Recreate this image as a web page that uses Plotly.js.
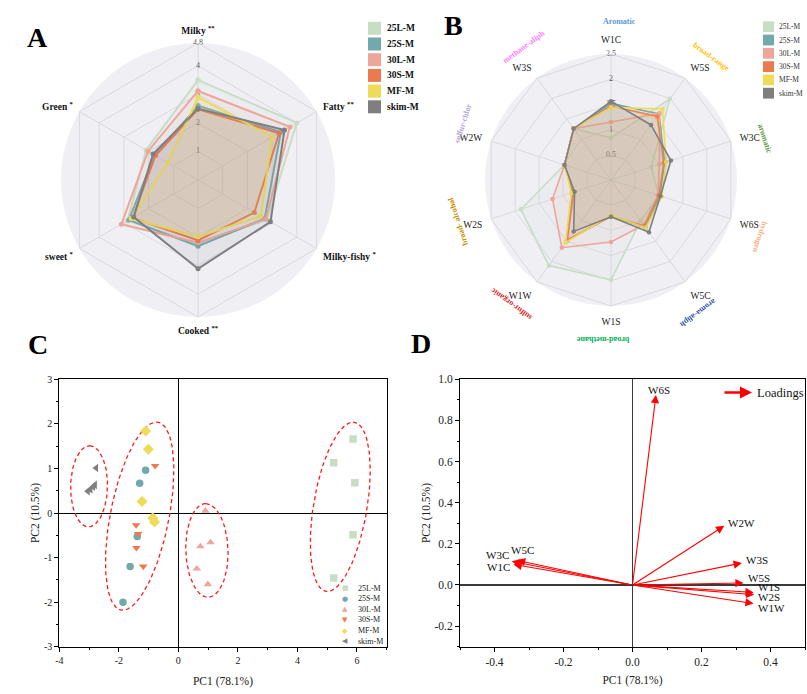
<!DOCTYPE html>
<html>
<head>
<meta charset="utf-8">
<script src="https://cdn.plot.ly/plotly-3.0.1.min.js"></script>
<style>
  html, body { margin: 0; padding: 0; background: #fff; }
  #chart { width: 807px; height: 694px; }
</style>
</head>
<body>
<div id="chart"></div>
<script>
// ---------- shared ----------
const groups = ['25L-M', '25S-M', '30L-M', '30S-M', 'MF-M', 'skim-M'];
const groupColors = ['#c9dcc4', '#72a9ac', '#eea59a', '#ec7a50', '#eedc58', '#7f7f7f'];

// ---------- A: sensory profile ----------
const sensoryAttrs = ['Milky', 'Fatty', 'Milky-fishy', 'Cooked', 'sweet', 'Green'];
const sensorySig   = ['**', '**', '*', '**', '*', '*'];
const sensoryTicks = [0, 1, 2, 3, 4, 4.8];
const sensory_25L  = [3.50, 4.00, 2.78, 2.25, 2.85, 2.10];
const sensory_25S  = [2.60, 3.35, 2.70, 2.32, 2.80, 1.75];
const sensory_30L  = [3.12, 3.72, 2.74, 2.20, 3.10, 2.02];
const sensory_30S  = [2.48, 3.28, 2.28, 2.12, 2.65, 1.72];
const sensory_MF   = [2.90, 3.00, 2.54, 1.99, 2.70, 1.22];
const sensory_skim = [2.50, 3.50, 2.93, 3.11, 2.60, 1.82];

// ---------- B: electronic nose ----------
const sensors     = ['W1C', 'W5S', 'W3C', 'W6S', 'W5C', 'W1S', 'W1W', 'W2S', 'W2W', 'W3S'];
const sensorNotes = ['Aromatic', 'broad-range', 'aromatic', 'hydrogen', 'aroma-aliph',
                     'broad-methane', 'sulfur-organic', 'broad- alcohol', 'sulfur-chlor', 'methane-aliph'];
const noteColors  = ['#5b9bd5', '#ffc000', '#5e9a3e', '#f4b183', '#2f55a4',
                     '#00b050', '#e02020', '#bf9000', '#b4a7d6', '#ff80ff'];
const enoseTicks  = [0, 0.5, 1, 1.5, 2, 2.5];
const enose_25L   = [0.84, 1.99, 0.84, 1.00, 1.00, 1.98, 2.10, 1.88, 0.97, 1.26];
const enose_25S   = [1.52, 1.62, 1.12, 1.02, 1.16, 0.72, 1.50, 0.80, 0.97, 1.26];
const enose_30L   = [1.15, 1.64, 1.01, 0.98, 1.10, 1.23, 1.66, 1.22, 0.97, 1.26];
const enose_30S   = [1.47, 1.56, 1.10, 1.00, 1.13, 0.72, 1.47, 0.78, 0.97, 1.26];
const enose_MF    = [1.44, 1.74, 1.15, 1.06, 1.17, 0.70, 1.53, 0.83, 0.97, 1.26];
const enose_skim  = [1.56, 1.35, 1.25, 1.03, 1.28, 0.73, 1.26, 0.76, 0.97, 1.26];

// ---------- C: PCA scores ----------
const pc1_25L  = [5.87, 5.22, 5.93, 5.87, 5.22];
const pc2_25L  = [1.66, 1.13, 0.68, -0.49, -1.46];
const pc1_25S  = [-1.10, -1.30, -1.38, -1.62, -1.86];
const pc2_25S  = [0.96, 0.67, -0.53, -1.20, -2.00];
const pc1_30L  = [0.91, 1.08, 0.74, 0.62, 0.99];
const pc2_30L  = [0.05, -0.66, -0.75, -1.25, -1.60];
const pc1_30S  = [-0.78, -1.42, -1.35, -1.41, -1.18];
const pc2_30S  = [1.06, -0.27, -0.47, -0.78, -1.20];
const pc1_MF   = [-1.10, -1.01, -1.22, -0.86, -0.80];
const pc2_MF   = [1.84, 1.43, 0.26, -0.11, -0.20];
const pc1_skim = [-2.76, -2.80, -2.86, -2.95, -3.04];
const pc2_skim = [1.01, 0.63, 0.59, 0.53, 0.49];
const scoreSymbols = ['square', 'circle', 'triangle-up', 'triangle-down', 'diamond', 'triangle-left'];
const scoreGlyphs  = ['\u25A0', '\u25CF', '\u25B2', '\u25BC', '\u25C6', '\u25C0'];
// confidence ellipses: centre (cx, cy), conjugate semi-diameters u and v
const ellipseCx = [-3.00, -1.30, 0.96, 5.44];
const ellipseCy = [0.60, -0.07, -0.84, 0.14];
const ellipseUx = [0.02, 0.565, -0.04, 0.43];
const ellipseUy = [0.91, 2.11, 1.05, 1.90];
const ellipseVx = [0.62, 1.00, 0.71, 0.91];
const scoreXTicks = [-4, -2, 0, 2, 4, 6];
const scoreYTicks = [-3, -2, -1, 0, 1, 2, 3];

// ---------- D: loadings ----------
const loadSensors = ['W6S', 'W2W', 'W3S', 'W5S', 'W1S', 'W2S', 'W1W', 'W3C', 'W5C', 'W1C'];
const loadPC1     = [0.068, 0.266, 0.317, 0.322, 0.351, 0.353, 0.351, -0.350, -0.335, -0.345];
const loadPC2     = [0.924, 0.288, 0.107, 0.010, -0.036, -0.047, -0.090, 0.115, 0.120, 0.100];
const loadXTicks  = [-0.4, -0.2, 0.0, 0.2, 0.4];
const loadYTicks  = [-0.2, 0.0, 0.2, 0.4, 0.6, 0.8, 1.0];

// ---------- page geometry helpers ----------
const W = 807, H = 694;
const SERIF = 'Liberation Serif, Times New Roman, serif';
const px = x => x / W;
const py = y => 1 - y / H;
function rgba(hex, a) {
  const n = parseInt(hex.slice(1), 16);
  return `rgba(${(n >> 16) & 255},${(n >> 8) & 255},${n & 255},${a})`;
}
const close = arr => arr.concat([arr[0]]);

// radar panel placement (centre and outer radius, in px)
const radarA = { cx: 198, cy: 180, r: 137 };
const radarB = { cx: 611, cy: 180, r: 126 };
const domainOf = c => ({ x: [px(c.cx - c.r), px(c.cx + c.r)], y: [py(c.cy + c.r), py(c.cy - c.r)] });
const tickGray = '#5a5a5a';

const traces = [];

// A: radial tick labels sit under the profiles
traces.push({
  type: 'scatterpolar', subplot: 'polar', mode: 'text', cliponaxis: false,
  r: sensoryTicks, theta: sensoryTicks.map(() => sensoryAttrs[0]),
  text: sensoryTicks.map(String),
  textfont: { family: SERIF, size: 8, color: sensoryTicks.map(() => tickGray) },
  hoverinfo: 'skip', showlegend: false
});
const sensoryData = [sensory_25L, sensory_25S, sensory_30L, sensory_30S, sensory_MF, sensory_skim];
groups.forEach((g, i) => {
  traces.push({
    type: 'scatterpolar', subplot: 'polar', name: g, mode: 'lines+markers',
    r: close(sensoryData[i]), theta: close(sensoryAttrs),
    fill: 'toself', fillcolor: rgba(groupColors[i], 0.1),
    line: { color: groupColors[i], width: 2 },
    marker: { color: groupColors[i], size: 5 },
    hoverinfo: 'skip', showlegend: false
  });
});

// B
traces.push({
  type: 'scatterpolar', subplot: 'polar2', mode: 'text', cliponaxis: false,
  r: enoseTicks, theta: enoseTicks.map(() => sensors[0]),
  text: enoseTicks.map(String),
  textfont: { family: SERIF, size: 8, color: enoseTicks.map(() => tickGray) },
  hoverinfo: 'skip', showlegend: false
});
const enoseData = [enose_25L, enose_25S, enose_30L, enose_30S, enose_MF, enose_skim];
groups.forEach((g, i) => {
  traces.push({
    type: 'scatterpolar', subplot: 'polar2', name: g, mode: 'lines+markers',
    r: close(enoseData[i]), theta: close(sensors),
    fill: 'toself', fillcolor: rgba(groupColors[i], 0.1),
    line: { color: groupColors[i], width: 1.6 },
    marker: { color: groupColors[i], size: 4.5 },
    hoverinfo: 'skip', showlegend: false
  });
});

// C: ellipses then scores
ellipseCx.forEach((cx, k) => {
  const xs = [], ys = [];
  for (let s = 0; s <= 120; s++) {
    const t = 2 * Math.PI * s / 120;
    xs.push(cx + ellipseUx[k] * Math.cos(t) + ellipseVx[k] * Math.sin(t));
    ys.push(ellipseCy[k] + ellipseUy[k] * Math.cos(t));
  }
  traces.push({
    type: 'scatter', xaxis: 'x', yaxis: 'y', mode: 'lines', x: xs, y: ys,
    line: { color: '#ff1a1a', width: 1.3, dash: '4px,3px' },
    hoverinfo: 'skip', showlegend: false
  });
});
const pc1Data = [pc1_25L, pc1_25S, pc1_30L, pc1_30S, pc1_MF, pc1_skim];
const pc2Data = [pc2_25L, pc2_25S, pc2_30L, pc2_30S, pc2_MF, pc2_skim];
groups.forEach((g, i) => {
  traces.push({
    type: 'scatter', xaxis: 'x', yaxis: 'y', mode: 'markers', name: g,
    x: pc1Data[i], y: pc2Data[i],
    marker: { symbol: scoreSymbols[i], size: i === 4 ? 8.5 : 7.5, color: groupColors[i] },
    hoverinfo: 'skip', showlegend: false
  });
});

// D: an invisible trace to anchor the loading axes
traces.push({
  type: 'scatter', xaxis: 'x2', yaxis: 'y2', mode: 'markers',
  x: loadPC1, y: loadPC2, marker: { size: 1, opacity: 0 },
  hoverinfo: 'skip', showlegend: false
});

// ---------- annotations and shapes ----------
const annotations = [];
const shapes = [];

// radar backdrops
[radarA, radarB].forEach(c => {
  shapes.push({
    type: 'circle', xref: 'paper', yref: 'paper', layer: 'below',
    x0: px(c.cx - c.r), x1: px(c.cx + c.r), y0: py(c.cy + c.r), y1: py(c.cy - c.r),
    fillcolor: '#efeff4', line: { width: 0 }
  });
});

// panel letters
[['A', 37.5, 38], ['B', 453.5, 26], ['C', 37.5, 344], ['D', 421, 343]].forEach(([t, x, y]) => {
  annotations.push({
    text: t, xref: 'paper', yref: 'paper', x: px(x), y: py(y),
    xanchor: 'center', yanchor: 'middle', showarrow: false,
    font: { family: SERIF, size: 28, color: '#000', weight: 'bold' }
  });
});

// A legend
groups.forEach((g, i) => {
  const yc = 28.3 + i * 15.7;
  shapes.push({
    type: 'rect', xref: 'paper', yref: 'paper',
    x0: px(368), x1: px(381), y0: py(yc + 6.5), y1: py(yc - 6.5),
    fillcolor: groupColors[i], line: { width: 0 }
  });
  annotations.push({
    text: g, xref: 'paper', yref: 'paper', x: px(385), y: py(yc),
    xanchor: 'left', yanchor: 'middle', showarrow: false,
    font: { family: SERIF, size: 9.5, color: '#111', weight: 'bold' }
  });
});

// B legend
groups.forEach((g, i) => {
  const yc = 26.7 + i * 13.3;
  shapes.push({
    type: 'rect', xref: 'paper', yref: 'paper',
    x0: px(763), x1: px(774), y0: py(yc + 5.4), y1: py(yc - 5.4),
    fillcolor: groupColors[i], line: { width: 0 }
  });
  annotations.push({
    text: g, xref: 'paper', yref: 'paper', x: px(777), y: py(yc),
    xanchor: 'left', yanchor: 'middle', showarrow: false,
    font: { family: SERIF, size: 7.5, color: '#333' }
  });
});

// B sensor descriptions around the rim
sensors.forEach((s, i) => {
  const axisDeg = i * 360 / sensors.length;
  const a = (axisDeg + 3) * Math.PI / 180;
  const R = 159;
  annotations.push({
    text: sensorNotes[i], xref: 'paper', yref: 'paper',
    x: px(radarB.cx + R * Math.sin(a)), y: py(radarB.cy - R * Math.cos(a)),
    xanchor: 'center', yanchor: 'middle', showarrow: false, textangle: axisDeg,
    font: { family: SERIF, size: 8, color: noteColors[i], weight: 'bold' }
  });
});

// C legend
groups.forEach((g, i) => {
  const yc = 588.3 + i * 10.55;
  annotations.push({
    text: scoreGlyphs[i], xref: 'paper', yref: 'paper', x: px(345), y: py(yc),
    xanchor: 'center', yanchor: 'middle', showarrow: false,
    font: { family: 'DejaVu Sans', size: 7, color: groupColors[i] }
  });
  annotations.push({
    text: g, xref: 'paper', yref: 'paper', x: px(356), y: py(yc),
    xanchor: 'left', yanchor: 'middle', showarrow: false,
    font: { family: SERIF, size: 8, color: '#222' }
  });
});

// D loading arrows and labels
const loadLabelPos = {
  W6S: ['center', 3, 5], W2W: ['left', 2, 3], W3S: ['left', 2, 2.5], W5S: ['left', 2, 5],
  W1S: ['left', 2, 5], W2S: ['left', 2, -2.5], W1W: ['left', 2, -4.5],
  W3C: ['right', -1, 6], W5C: ['left', -8, 10.5], W1C: ['right', -1, -2.5]
};
loadSensors.forEach((s, i) => {
  annotations.push({
    text: '', xref: 'x2', yref: 'y2', axref: 'x2', ayref: 'y2',
    x: loadPC1[i], y: loadPC2[i], ax: 0, ay: 0,
    showarrow: true, arrowhead: 2, arrowsize: 1.5, arrowwidth: 1.1,
    arrowcolor: '#ff0000', standoff: 0, startstandoff: 0
  });
});
loadSensors.forEach((s, i) => {
  const [anchor, dx, dy] = loadLabelPos[s];
  annotations.push({
    text: s, xref: 'x2', yref: 'y2', x: loadPC1[i], y: loadPC2[i],
    xanchor: anchor, yanchor: 'middle', xshift: dx, yshift: dy, showarrow: false,
    font: { family: SERIF, size: 11, color: '#111' }
  });
});
// loadings key
annotations.push({
  text: '', xref: 'paper', yref: 'paper', x: px(752), y: py(392.5),
  ax: -29, ay: 0, showarrow: true, arrowhead: 2, arrowsize: 1, arrowwidth: 2.4,
  arrowcolor: '#ff0000', standoff: 0
});
annotations.push({
  text: 'Loadings', xref: 'paper', yref: 'paper', x: px(755), y: py(392.5),
  xanchor: 'left', yanchor: 'middle', showarrow: false,
  font: { family: SERIF, size: 12.5, color: '#111' }
});

// ---------- axes ----------
const gridCol = '#d9d9de';
const cartAxis = (over) => Object.assign({
  showline: true, linecolor: '#000', linewidth: 1, mirror: true,
  ticks: 'outside', ticklen: 4, tickcolor: '#000', tickwidth: 1,
  showgrid: false, zeroline: true, zerolinecolor: '#000', zerolinewidth: 1,
  tickfont: { family: SERIF, size: 10, color: '#222' }, fixedrange: true
}, over);

const layout = {
  width: W, height: H,
  margin: { l: 0, r: 0, t: 0, b: 0, pad: 0 },
  paper_bgcolor: '#fff', plot_bgcolor: 'rgba(0,0,0,0)',
  showlegend: false, hovermode: false, dragmode: false,
  polar: {
    domain: domainOf(radarA), bgcolor: 'rgba(0,0,0,0)', gridshape: 'linear',
    radialaxis: {
      range: [0, 4.8], tickmode: 'array', tickvals: [1, 2, 3, 4],
      showticklabels: false, ticks: '', showline: false, gridcolor: gridCol, gridwidth: 1
    },
    angularaxis: {
      rotation: 90, direction: 'clockwise', tickmode: 'array',
      tickvals: sensoryAttrs.map((_, i) => i),
      ticktext: sensoryAttrs.map((a, i) => a + ' <sup>' + sensorySig[i] + '</sup>'),
      tickfont: { family: SERIF, size: 9.5, color: '#111', weight: 'bold' },
      ticks: 'outside', ticklen: 5, tickcolor: 'rgba(0,0,0,0)',
      showline: true, linecolor: gridCol, gridcolor: gridCol
    }
  },
  polar2: {
    domain: domainOf(radarB), bgcolor: 'rgba(0,0,0,0)', gridshape: 'linear',
    radialaxis: {
      range: [0, 2.5], tickmode: 'array', tickvals: [0.5, 1, 1.5, 2],
      showticklabels: false, ticks: '', showline: false, gridcolor: gridCol, gridwidth: 1
    },
    angularaxis: {
      rotation: 90, direction: 'clockwise',
      tickfont: { family: SERIF, size: 9.5, color: '#222' },
      ticks: 'outside', ticklen: 7, tickcolor: 'rgba(0,0,0,0)',
      showline: true, linecolor: gridCol, gridcolor: gridCol
    }
  },
  xaxis: cartAxis({
    domain: [px(59.3), px(386.7)], anchor: 'y', range: [-4, 7],
    tickmode: 'array', tickvals: scoreXTicks, ticktext: scoreXTicks.map(String),
    minor: { tickmode: 'linear', tick0: -4, dtick: 1, ticks: 'outside', ticklen: 2.5, tickcolor: '#000' },
    title: { text: 'PC1 (78.1%)', font: { family: SERIF, size: 11.5, color: '#222' }, standoff: 12 }
  }),
  yaxis: cartAxis({
    domain: [py(646.7), py(379.3)], anchor: 'x', range: [-3, 3],
    tickmode: 'array', tickvals: scoreYTicks, ticktext: scoreYTicks.map(String),
    minor: { tickmode: 'linear', tick0: -3, dtick: 0.5, ticks: 'outside', ticklen: 2.5, tickcolor: '#000' },
    title: { text: 'PC2 (10.5%)', font: { family: SERIF, size: 11.5, color: '#222' }, standoff: 1 }
  }),
  xaxis2: cartAxis({
    domain: [px(460), px(805)], anchor: 'y2', range: [-0.5, 0.5],
    tickmode: 'array', tickvals: loadXTicks, ticktext: loadXTicks.map(v => v.toFixed(1)),
    minor: { tickmode: 'linear', tick0: -0.5, dtick: 0.1, ticks: 'outside', ticklen: 2.5, tickcolor: '#000' },
    zerolinecolor: '#3a3a3a', zerolinewidth: 1.5,
    tickfont: { family: SERIF, size: 11.5, color: '#222' },
    title: { text: 'PC1 (78.1%)', font: { family: SERIF, size: 11.5, color: '#222' }, standoff: 9 }
  }),
  yaxis2: cartAxis({
    domain: [py(646.7), py(379.3)], anchor: 'x2', range: [-0.3, 1.0],
    tickmode: 'array', tickvals: loadYTicks, ticktext: loadYTicks.map(v => v.toFixed(1)),
    minor: { tickmode: 'linear', tick0: -0.3, dtick: 0.1, ticks: 'outside', ticklen: 2.5, tickcolor: '#000' },
    zerolinecolor: '#3a3a3a', zerolinewidth: 1.5,
    tickfont: { family: SERIF, size: 11.5, color: '#222' },
    title: { text: 'PC2 (10.5%)', font: { family: SERIF, size: 11.5, color: '#222' }, standoff: 1 }
  }),
  shapes: shapes,
  annotations: annotations
};

Plotly.newPlot('chart', traces, layout, { displayModeBar: false, staticPlot: true });
</script>
</body>
</html>
